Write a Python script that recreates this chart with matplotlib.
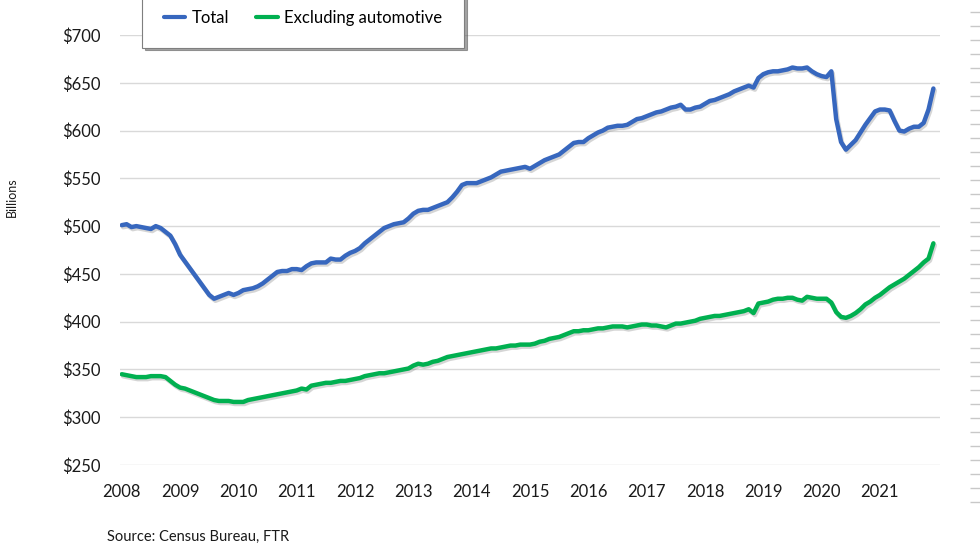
import numpy as np
import matplotlib
matplotlib.use("Agg")
import matplotlib.pyplot as plt
import matplotlib.patheffects as pe
from matplotlib.lines import Line2D
from matplotlib.ticker import FuncFormatter

# Monthly values, Jan 2008 - Dec 2021 ($ billions)
total = [
    501, 502, 499, 500, 499, 498, 497, 500, 498, 494, 490, 481,  # 2008
    470, 463, 456, 449, 442, 435, 428, 424, 426, 428, 430, 428,  # 2009
    430, 433, 434, 435, 437, 440, 444, 448, 452, 453, 453, 455,  # 2010
    455, 454, 458, 461, 462, 462, 462, 466, 465, 465, 469, 472,  # 2011
    474, 477, 482, 486, 490, 494, 498, 500, 502, 503, 504, 508,  # 2012
    513, 516, 517, 517, 519, 521, 523, 525, 530, 536, 543, 545,  # 2013
    545, 545, 547, 549, 551, 554, 557, 558, 559, 560, 561, 562,  # 2014
    560, 563, 566, 569, 571, 573, 575, 579, 583, 587, 588, 588,  # 2015
    592, 595, 598, 600, 603, 604, 605, 605, 606, 609, 612, 613,  # 2016
    615, 617, 619, 620, 622, 624, 625, 627, 622, 622, 624, 625,  # 2017
    628, 631, 632, 634, 636, 638, 641, 643, 645, 647, 645, 655,  # 2018
    659, 661, 662, 662, 663, 664, 666, 665, 665, 666, 662, 659,  # 2019
    657, 656, 662, 612, 588, 580, 585, 590, 598, 606, 613, 620,  # 2020
    622, 622, 621, 610, 600, 599, 602, 604, 604, 608, 622, 644,  # 2021
]
ex_auto = [
    345, 344, 343, 342, 342, 342, 343, 343, 343, 342, 338, 334,  # 2008
    331, 330, 328, 326, 324, 322, 320, 318, 317, 317, 317, 316,  # 2009
    316, 316, 318, 319, 320, 321, 322, 323, 324, 325, 326, 327,  # 2010
    328, 330, 329, 333, 334, 335, 336, 336, 337, 338, 338, 339,  # 2011
    340, 341, 343, 344, 345, 346, 346, 347, 348, 349, 350, 351,  # 2012
    354, 356, 355, 356, 358, 359, 361, 363, 364, 365, 366, 367,  # 2013
    368, 369, 370, 371, 372, 372, 373, 374, 375, 375, 376, 376,  # 2014
    376, 377, 379, 380, 382, 383, 384, 386, 388, 390, 390, 391,  # 2015
    391, 392, 393, 393, 394, 395, 395, 395, 394, 395, 396, 397,  # 2016
    397, 396, 396, 395, 394, 396, 398, 398, 399, 400, 401, 403,  # 2017
    404, 405, 406, 406, 407, 408, 409, 410, 411, 413, 409, 419,  # 2018
    420, 421, 423, 424, 424, 425, 425, 423, 422, 426, 425, 424,  # 2019
    424, 424, 420, 410, 405, 404, 406, 409, 413, 418, 421, 425,  # 2020
    428, 432, 436, 439, 442, 445, 449, 453, 457, 462, 466, 482,  # 2021
]
years = list(range(2008, 2022))
labels = ["Total", "Excluding automotive"]
colors = ["#3767BE", "#00B050"]

plt.rcParams["font.family"] = ["Lato", "DejaVu Sans"]

t = 2008 + np.arange(len(total)) / 12.0

fig = plt.figure(figsize=(9.8, 5.52), dpi=100)
ax = fig.add_axes([120 / 980, 87 / 552, 820 / 980, 430 / 552])

# soft drop shadow like the Excel original
shadow = [pe.SimpleLineShadow(offset=(1.0, -1.5), shadow_color="#777777", alpha=0.3),
          pe.Normal()]
for y, lab, c in zip([total, ex_auto], labels, colors):
    ax.plot(t, y, color=c, linewidth=3.2, label=lab, solid_capstyle="round",
            path_effects=shadow)

ax.set_xlim(2007.97, 2022.03)
ax.set_ylim(250, 700)
ax.set_yticks(np.arange(250, 701, 50))
ax.set_xticks(years)
ax.yaxis.set_major_formatter(FuncFormatter(lambda v, _: f"${v:.0f}"))
ax.grid(axis="y", color="#D9D9D9", linewidth=1)
ax.set_axisbelow(True)
for s in ax.spines.values():
    s.set_visible(False)
ax.tick_params(axis="both", length=0, labelsize=12, colors="#1a1a1a")
ax.tick_params(axis="y", pad=14)
ax.tick_params(axis="x", pad=14)

fig.text(12 / 980, 1 - 197 / 552, "Billions", rotation=90, ha="center", va="center",
         fontsize=9, color="#1a1a1a")
fig.text(107 / 980, 1 - 537 / 552, "Source: Census Bureau, FTR", ha="left", va="center",
         fontsize=10.5, color="#1a1a1a")

leg = fig.legend(loc="center", bbox_to_anchor=(303 / 980, 1 - 18 / 552), ncol=2,
                 frameon=True, fancybox=False, shadow=True, fontsize=12,
                 handlelength=1.3, handletextpad=0.4, columnspacing=1.6,
                 borderpad=1.3)
leg.get_frame().set_edgecolor("#7f7f7f")
leg.get_frame().set_linewidth(0.8)
for h in leg.get_lines():
    h.set_linewidth(3)
    h.set_path_effects([])

# faint ruler marks along the right edge
marks = np.arange(12, 512, 14)
fig.add_artist(Line2D(np.full(len(marks), 976 / 980), 1 - marks / 552,
                      linestyle="none", marker="_", markersize=8,
                      color="#C8C8C8", transform=fig.transFigure))

fig.savefig("out.png", dpi=100)
